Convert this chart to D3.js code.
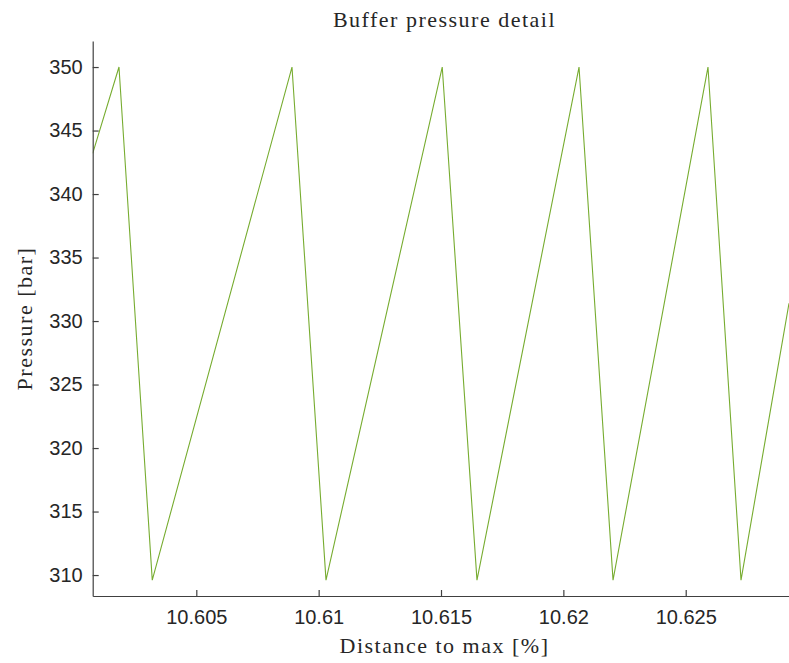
<!DOCTYPE html>
<html>
<head>
<meta charset="utf-8">
<script src="https://cdn.jsdelivr.net/npm/d3@7"></script>
<style>
  html, body { margin: 0; padding: 0; background: #ffffff; }
  svg { display: block; }
</style>
</head>
<body>
<div id="chart"></div>
<script>
// Buffer pressure sawtooth: vertices of the pressure trace
const distance = [10.600766, 10.60184, 10.60320, 10.60891, 10.61030, 10.61505, 10.61647,
                  10.62064, 10.62203, 10.62591, 10.62726, 10.629221];
const pressure = [343.2, 350, 309.6, 350, 309.6, 350, 309.6, 350, 309.6, 350, 309.6, 331.4];

const xTicks = [10.605, 10.61, 10.615, 10.62, 10.625];
const xTickLabels = ["10.605", "10.61", "10.615", "10.62", "10.625"];
const yTicks = [310, 315, 320, 325, 330, 335, 340, 345, 350];

const xDomain = [10.600766, 10.629221];
const yDomain = [308.35, 352.05];

const W = 789, H = 663;
const plotLeft = 92.7, plotRight = 789, plotTop = 41, plotBottom = 596;

const svg = d3.select("#chart").append("svg")
  .attr("width", W).attr("height", H);

const x = d3.scaleLinear().domain(xDomain).range([plotLeft, plotRight]);
const y = d3.scaleLinear().domain(yDomain).range([plotBottom, plotTop]);

const axisColor = "#404040";
const tickFont = "'Liberation Sans', Arial, Helvetica, sans-serif";
const serif = "'Liberation Serif', 'Times New Roman', serif";

svg.append("defs").append("clipPath").attr("id", "plotclip")
  .append("rect").attr("x", plotLeft).attr("y", plotTop)
  .attr("width", plotRight - plotLeft).attr("height", plotBottom - plotTop);

// data line
const pts = distance.map((d, i) => [d, pressure[i]]);
svg.append("path")
  .datum(pts)
  .attr("clip-path", "url(#plotclip)")
  .attr("fill", "none")
  .attr("stroke", "#77AC30")
  .attr("stroke-width", 1.1)
  .attr("d", d3.line().x(d => x(d[0])).y(d => y(d[1])));

// x axis (ticks pointing inward)
const xAxis = d3.axisBottom(x).tickValues(xTicks)
  .tickFormat((d, i) => xTickLabels[i]).tickSize(-6).tickPadding(14).tickSizeOuter(0);
const gx = svg.append("g").attr("transform", `translate(0,${plotBottom})`).call(xAxis);
gx.select(".domain").attr("stroke", axisColor).attr("stroke-width", 1.2);
gx.selectAll(".tick line").attr("stroke", axisColor).attr("stroke-width", 1.2);
gx.selectAll(".tick text").attr("fill", "#262626")
  .style("font-family", tickFont).style("font-size", "20px");

// y axis (ticks pointing inward)
const yAxis = d3.axisLeft(y).tickValues(yTicks).tickFormat(d3.format("d"))
  .tickSize(-6).tickPadding(10).tickSizeOuter(0);
const gy = svg.append("g").attr("transform", `translate(${plotLeft},0)`).call(yAxis);
gy.select(".domain").attr("stroke", axisColor).attr("stroke-width", 1.2);
gy.selectAll(".tick line").attr("stroke", axisColor).attr("stroke-width", 1.2);
gy.selectAll(".tick text").attr("fill", "#262626")
  .style("font-family", tickFont).style("font-size", "20px");

// title and axis labels
function label(sel) {
  return sel.attr("text-anchor", "middle")
    .attr("fill", "#262626")
    .style("font-family", serif)
    .style("font-size", "22px")
    .style("letter-spacing", "1.5px");
}

svg.append("text").call(label)
  .attr("x", 444.5).attr("y", 27)
  .text("Buffer pressure detail");

svg.append("text").call(label)
  .attr("x", 444.5).attr("y", 653)
  .text("Distance to max [%]");

svg.append("text").call(label)
  .attr("transform", `translate(32,${(plotTop + plotBottom) / 2}) rotate(-90)`)
  .text("Pressure [bar]");
</script>
</body>
</html>
